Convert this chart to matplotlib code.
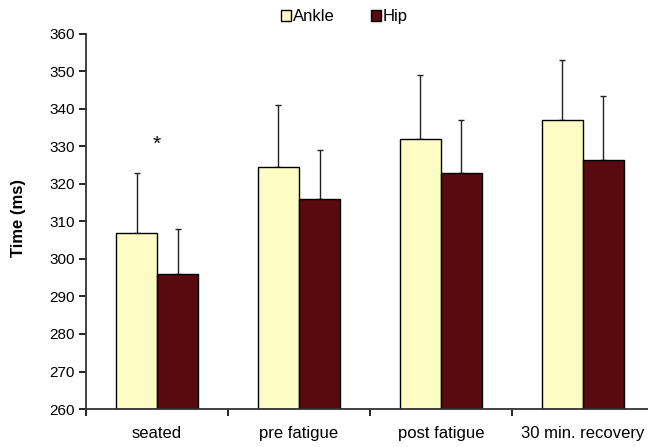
import matplotlib
matplotlib.use("Agg")
import matplotlib.pyplot as plt
import numpy as np

plt.rcParams['font.family'] = ['Liberation Sans', 'DejaVu Sans']

# data
categories = ['seated', 'pre fatigue', 'post fatigue', '30 min. recovery']
ankle_mean = [307, 324.5, 332, 337]
ankle_sd = [16, 16.5, 17, 16]
hip_mean = [296, 316, 323, 326.5]
hip_sd = [12, 13, 14, 17]

ANKLE_COLOR = '#FCFCC4'
HIP_COLOR = '#590A0E'
BAR_W = 0.29

fig = plt.figure(figsize=(6.48, 4.47), dpi=100)
ax = fig.add_axes([0.133, 0.085, 0.867, 0.839])

x = np.arange(len(categories))
ax.bar(x - BAR_W / 2, [m - 260 for m in ankle_mean], BAR_W, bottom=260,
       color=ANKLE_COLOR, edgecolor='black', linewidth=1.0, label='Ankle', zorder=2)
ax.bar(x + BAR_W / 2, [m - 260 for m in hip_mean], BAR_W, bottom=260,
       color=HIP_COLOR, edgecolor='black', linewidth=1.0, label='Hip', zorder=2)

# upper-only error bars
ax.errorbar(x - BAR_W / 2, ankle_mean, yerr=[np.zeros(4), ankle_sd], fmt='none',
            ecolor='#222222', elinewidth=1.0, capsize=2.5, capthick=1.0, zorder=1)
ax.errorbar(x + BAR_W / 2, hip_mean, yerr=[np.zeros(4), hip_sd], fmt='none',
            ecolor='#222222', elinewidth=1.0, capsize=2.5, capthick=1.0, zorder=1)

ax.text(0, 330.5, '*', ha='center', va='center', fontsize=15)

ax.set_ylim(260, 360)
ax.set_yticks(range(260, 361, 10))
ax.set_xlim(-0.5, 3.46)
ax.set_xticks([-0.5, 0.5, 1.5, 2.5])
ax.set_xticklabels([])
ax.set_xticks(x, minor=True)
ax.set_xticklabels(categories, minor=True)
ax.tick_params(axis='x', which='minor', length=0, pad=12, labelsize=12)
ax.tick_params(axis='x', which='major', length=5, width=1.2, direction='out')
ax.tick_params(axis='y', length=5, width=1.2, direction='out', labelsize=11, pad=3)

for s in ['top', 'right']:
    ax.spines[s].set_visible(False)
for s in ['left', 'bottom']:
    ax.spines[s].set_linewidth(1.3)
    ax.spines[s].set_color('#333333')

ax.set_ylabel('Time (ms)', fontsize=12, fontweight='bold')
ax.yaxis.set_label_coords(-0.107, 0.51)

fig.legend(loc='center left', bbox_to_anchor=(0.434, 0.962), ncol=2, frameon=False,
           fontsize=12, handlelength=0.6, handleheight=0.6, handletextpad=0.1,
           columnspacing=2.2, borderpad=0, borderaxespad=0)

fig.savefig('out.png', dpi=100)
